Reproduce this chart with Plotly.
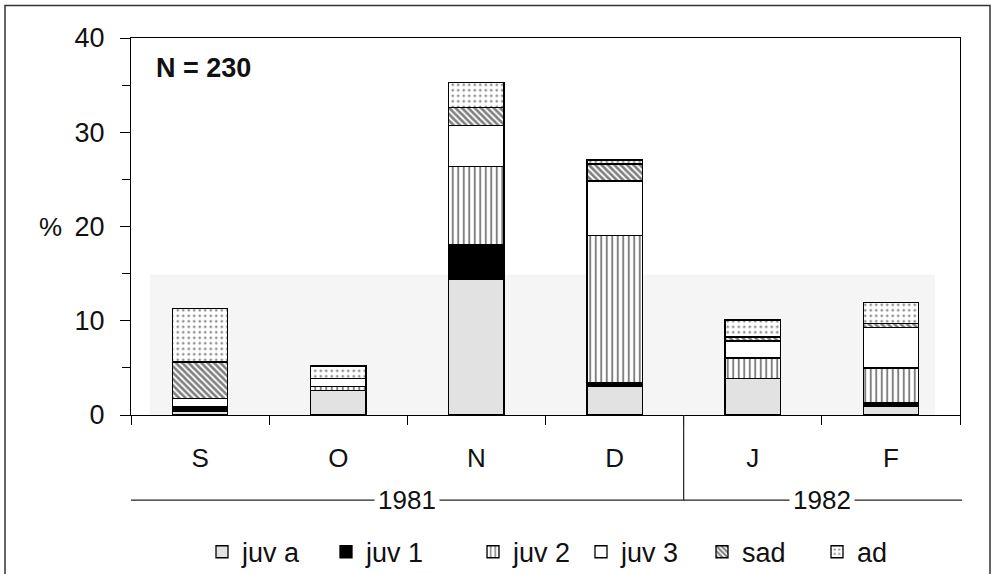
import plotly.graph_objects as go

months = ["S", "O", "N", "D", "J", "F"]
years = ["1981", "1982"]
year_centers = [1.5, 4.5]

juv_a = [0.43, 2.6, 14.4, 3.0, 3.9, 0.87]
juv_1 = [0.43, 0.0, 3.7, 0.43, 0.0, 0.43]
juv_2 = [0.0, 0.43, 8.3, 15.6, 2.15, 3.7]
juv_3 = [0.87, 0.87, 4.3, 5.8, 1.8, 4.3]
sad = [3.9, 0.0, 1.95, 1.8, 0.43, 0.43]
ad = [5.65, 1.3, 2.6, 0.43, 1.8, 2.2]

series_names = ["juv a", "juv 1", "juv 2", "juv 3", "sad", "ad"]
series_values = [juv_a, juv_1, juv_2, juv_3, sad, ad]
# left edge (px) of each legend entry's square in the reference
legend_square_px = [214, 338, 485, 593, 714, 829]

FONT = "Liberation Sans, Arial, sans-serif"

styles = {
    "juv a": dict(color="#e2e2e2"),
    "juv 1": dict(color="black"),
    "juv 2": dict(color="white", pattern=dict(shape="|", fgcolor="black", bgcolor="white", size=5.5, solidity=0.35)),
    "juv 3": dict(color="white"),
    "sad": dict(color="white", pattern=dict(shape="\\", fgcolor="black", bgcolor="white", size=4.5, solidity=0.6)),
    "ad": dict(color="white", pattern=dict(shape=".", fgcolor="#222", bgcolor="white", size=5.5, solidity=0.2)),
}

# plot-area geometry (px): left 131, right 960, top 38.5, bottom 415
PW, PH = 829.0, 376.5
def px_x(px):
    return (px - 131) / PW
def px_y(py):
    return (415 - py) / PH

fig = go.Figure()
legend_layouts = {}
for i, (name, vals) in enumerate(zip(series_names, series_values)):
    st = styles[name]
    marker = dict(color=st["color"], line=dict(color="black", width=1.3))
    if "pattern" in st:
        marker["pattern"] = st["pattern"]
    lg = "legend" if i == 0 else f"legend{i + 1}"
    fig.add_trace(go.Bar(x=months, y=vals, name=name, marker=marker, legend=lg, showlegend=True))
    legend_layouts[lg] = dict(
        orientation="h", x=px_x(legend_square_px[i] - 12), xanchor="left",
        y=px_y(552), yanchor="middle", font=dict(size=27, family=FONT, color="#111"),
        bgcolor="rgba(0,0,0,0)", borderwidth=0,
    )

shapes = [
    # faint scan band
    dict(type="rect", xref="paper", yref="y", x0=px_x(150), x1=px_x(935), y0=0, y1=14.9,
         fillcolor="#f5f5f5", line=dict(width=0), layer="below"),
    # outer frame
    dict(type="rect", xref="paper", yref="paper", x0=px_x(5), x1=px_x(990), y0=px_y(577), y1=px_y(6),
         line=dict(color="#333", width=1.5)),
    # year separator
    dict(type="line", xref="x", yref="paper", x0=3.5, x1=3.5, y0=0, y1=px_y(500),
         line=dict(color="#222", width=1.2)),
    # year line
    dict(type="line", xref="paper", yref="paper", x0=0, x1=px_x(962), y0=px_y(500), y1=px_y(500),
         line=dict(color="#222", width=1.3)),
]

annotations = [
    dict(text="<b>N = 230</b>", xref="paper", yref="paper", x=px_x(154), y=px_y(68),
         xanchor="left", yanchor="middle", showarrow=False, font=dict(size=27, color="#111", family=FONT)),
    dict(text="%", xref="paper", yref="y", x=px_x(50), y=20, xanchor="center", yanchor="middle",
         showarrow=False, font=dict(size=26, color="#111", family=FONT)),
]
for yr, xc in zip(years, year_centers):
    annotations.append(dict(text=yr, xref="x", yref="paper", x=xc, y=px_y(500), xanchor="center",
                            yanchor="middle", showarrow=False, bgcolor="white", borderpad=3,
                            font=dict(size=26, color="#111", family=FONT)))

fig.update_layout(
    width=993, height=574, autosize=False,
    margin=dict(l=131, r=33, t=38, b=159, autoexpand=False),
    paper_bgcolor="white", plot_bgcolor="white",
    barmode="stack", bargap=0.6, showlegend=True,
    font=dict(family=FONT, size=26, color="#111"),
    shapes=shapes, annotations=annotations,
    xaxis=dict(type="category", range=[-0.5, 5.5], showline=True, linecolor="black", linewidth=1.3,
               mirror=True, ticks="outside", tickson="boundaries", ticklen=9, tickcolor="black",
               tickwidth=1.2, ticklabelstandoff=20, showgrid=False, automargin=False,
               tickfont=dict(size=26)),
    yaxis=dict(range=[0, 40], dtick=10, showline=True, linecolor="black", linewidth=1.3, mirror=True,
               ticks="outside", ticklen=10, tickcolor="black", tickwidth=1.2, showgrid=False,
               zeroline=False, ticklabelstandoff=10, automargin=False, tickfont=dict(size=27),
               minor=dict(dtick=5, ticks="outside", ticklen=8, tickcolor="black", tickwidth=1.2, showgrid=False)),
    **legend_layouts,
)

fig.write_html("out.html")
